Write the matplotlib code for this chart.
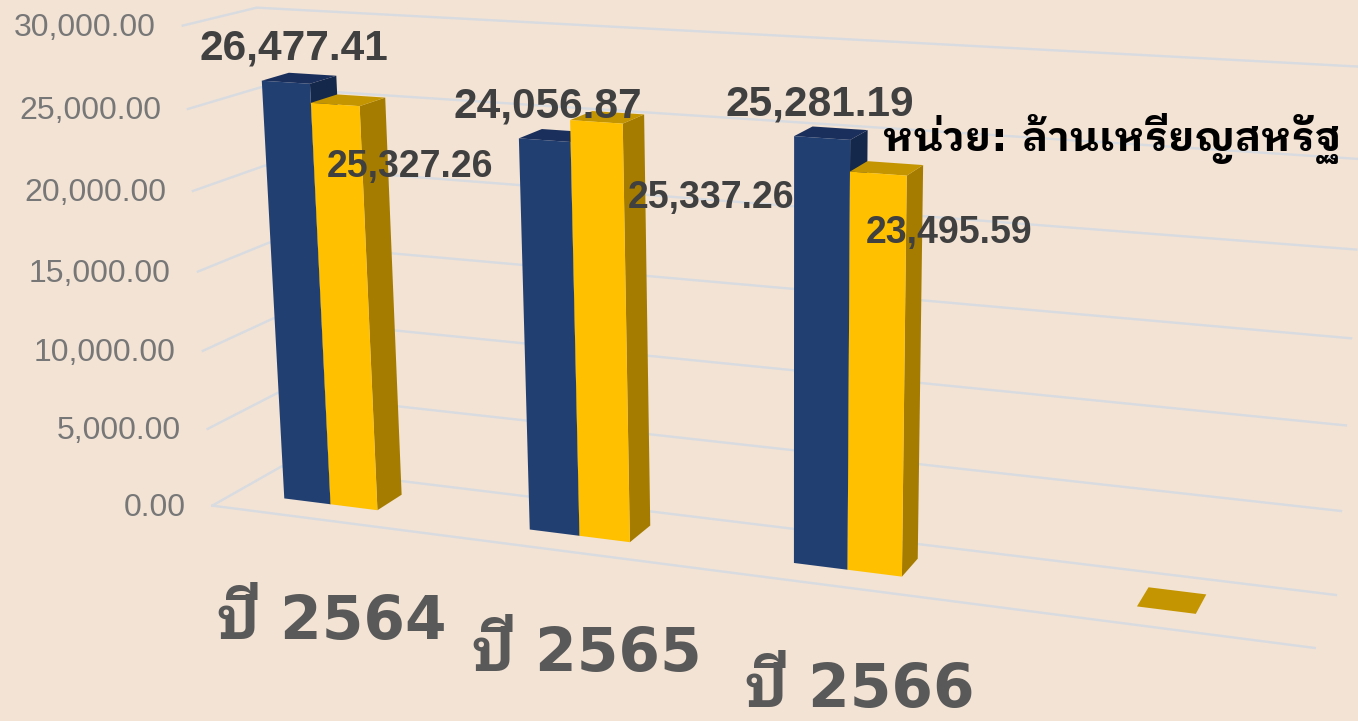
"""
3D style clustered bars drawn on a flat axes through a fitted camera
"""
import numpy as np
import matplotlib
matplotlib.use("Agg")
import matplotlib.pyplot as plt
from matplotlib.patches import Polygon

WIDTH, HEIGHT = 1358, 721
BG = "#F2E3D5"
GRID = "#D8DBE0"
THAI = ["DejaVu Sans", "IBM Plex Sans Thai Looped"]

CATEGORIES = ["ปี 2564", "ปี 2565", "ปี 2566", ""]
SERIES_BLUE = [26477.41, 24056.87, 25281.19, np.nan]
SERIES_GOLD = [25327.26, 25337.26, 23495.59, 0.0]
TICKS = [0, 5000, 10000, 15000, 20000, 25000, 30000]
UNIT = "หน่วย: ล้านเหรียญสหรัฐ"

BLUE_FACES = ("#223F72", "#1B2F5C", "#14284C")
GOLD_FACES = ("#FFC000", "#C49500", "#A67C00")

# layout
X_MIN, X_MAX = -0.4, 3.6
BAR_W = 0.194
D_FRONT, D_BACK = 0.33, 0.71
BLUE_LABEL_XY = [(294, 49), (548, 106), (820, 104)]
GOLD_LABEL_XY = [(410, 167), (711, 198), (949, 233)]
CAT_LABEL_XY = [(332, 623), (587, 655), (860, 690)]

# camera calibration: (x, depth, value) -> pixel
CALIB = [
    (-0.4, 0, 0, 213, 504), (-0.4, 1, 0, 282, 467),
    (-0.4, 0, 30000, 183, 25), (-0.4, 1, 30000, 257, 7),
    (3.6, 0, 0, 1315, 647), (3.6, 1, 0, 1336, 595),
    (3.6, 1, 5000, 1341, 511), (3.6, 1, 30000, 1366, 66),
    (0, 0.33, 0, 330, 504), (1, 0.33, 0, 579, 536),
    (2, 0.33, 0, 847, 570), (3, 0.33, 0, 1137, 607),
    (-0.194, 0.33, 0, 284, 499), (0.194, 0.33, 0, 377, 511),
    (2.194, 0.33, 0, 902, 577), (0.194, 0.71, 0, 402, 494),
    (1.194, 0.71, 0, 650, 525), (2.194, 0.71, 0, 918, 559),
    (-0.194, 0.33, 26477, 262, 81), (0, 0.33, 25327, 310, 103),
    (0.194, 0.33, 25327, 359, 107), (0.194, 0.71, 25327, 385, 98),
    (1.806, 0.33, 25281, 795, 137), (2, 0.33, 23495, 850, 172),
    (2.194, 0.33, 23495, 907, 176), (2.194, 0.71, 23495, 924, 165),
    (0.806, 0.33, 24057, 519, 138), (1, 0.33, 25337, 570, 121),
    (1.194, 0.33, 25337, 623, 123), (1.194, 0.71, 25337, 644, 114),
]


def fit_camera(points):
    """ Direct linear transform of the calibration points """
    rows = []
    for x, d, v, px, py in points:
        w = [x, d, v / 30000, 1]
        px, py = px / 1000, py / 1000
        rows.append(w + [0, 0, 0, 0] + [-px * c for c in w])
        rows.append([0, 0, 0, 0] + w + [-py * c for c in w])
    return np.linalg.svd(np.array(rows))[2][-1].reshape(3, 4)


CAMERA = fit_camera(CALIB)


def project(x, d, v):
    u = CAMERA @ np.array([x, d, v / 30000, 1])
    return u[0] / u[2] * 1000, u[1] / u[2] * 1000


def draw_bar(ax, x0, x1, v, faces):
    d0, d1 = D_FRONT, D_BACK
    front = [project(x0, d0, 0), project(x1, d0, 0), project(x1, d0, v), project(x0, d0, v)]
    side = [project(x1, d0, 0), project(x1, d1, 0), project(x1, d1, v), project(x1, d0, v)]
    top = [project(x0, d0, v), project(x1, d0, v), project(x1, d1, v), project(x0, d1, v)]
    for pts, col in ((side, faces[2]), (top, faces[1]), (front, faces[0])):
        ax.add_patch(Polygon(pts, closed=True, facecolor=col, edgecolor="none", zorder=3))


fig = plt.figure(figsize=(WIDTH / 100, HEIGHT / 100), dpi=100, facecolor=BG)
ax = fig.add_axes([0, 0, 1, 1])
ax.set_xlim(0, WIDTH)
ax.set_ylim(HEIGHT, 0)
ax.axis("off")

# grid on the side and back walls
for tick in TICKS:
    pts = [project(X_MIN, 0, tick), project(X_MIN, 1, tick), project(X_MAX, 1, tick)]
    ax.plot(*zip(*pts), color=GRID, lw=1.7, solid_joinstyle="miter", zorder=1)
    px, py = project(X_MIN, 0, tick)
    ax.text(px - 27, py + 2, f"{tick:,.2f}", ha="right", va="center",
            fontsize=23, color="#777777", family="Liberation Sans")
ax.plot(*zip(project(X_MIN, 0, 0), project(X_MAX, 0, 0)), color=GRID, lw=1.7, zorder=1)

# bars
for i, (blue, gold) in enumerate(zip(SERIES_BLUE, SERIES_GOLD)):
    if not np.isnan(blue):
        draw_bar(ax, i - BAR_W, i, blue, BLUE_FACES)
    draw_bar(ax, i, i + BAR_W, gold, GOLD_FACES)

# labels
for val, xy in zip(SERIES_BLUE, BLUE_LABEL_XY):
    ax.text(*xy, f"{val:,.2f}", ha="center", va="center", fontsize=30.5, zorder=5,
            fontweight="bold", color="#404040", family="Liberation Sans")
for val, xy in zip(SERIES_GOLD, GOLD_LABEL_XY):
    ax.text(*xy, f"{val:,.2f}", ha="center", va="center", fontsize=27, zorder=5,
            fontweight="bold", color="#404040", family="Liberation Sans")
for name, xy in zip(CATEGORIES, CAT_LABEL_XY):
    ax.text(*xy, name, ha="center", va="center", fontsize=43, zorder=5,
            fontweight="bold", color="#595959", family=THAI)
ax.text(1112, 138, UNIT, ha="center", va="center", fontsize=29.5, zorder=5,
        fontweight="bold", color="black", family=THAI)

fig.savefig("out.png", dpi=100, facecolor=BG)
